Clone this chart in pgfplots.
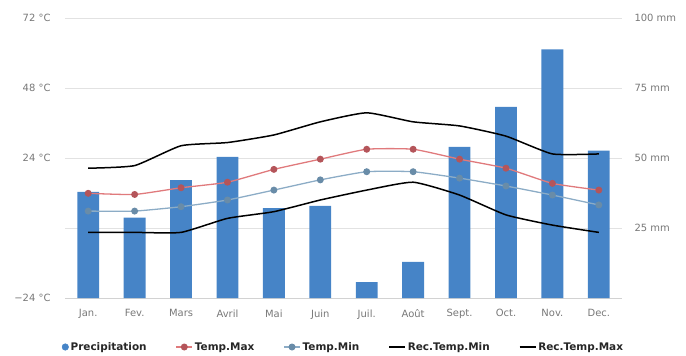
\documentclass[border=0pt]{standalone}
\usepackage{pgfplots}
\pgfplotsset{compat=1.18}
\usepackage{fontspec}
\setmainfont{DejaVu Sans}
\definecolor{barblue}{RGB}{70,132,199}
\definecolor{tmaxline}{RGB}{224,122,124}
\definecolor{tmaxmark}{RGB}{180,85,90}
\definecolor{tminline}{RGB}{140,172,198}
\definecolor{tminmark}{RGB}{105,140,168}
\definecolor{gridgrey}{RGB}{226,226,226}
\definecolor{labgrey}{RGB}{120,120,120}
\definecolor{axgrey}{RGB}{210,210,210}
\begin{document}
\begin{tikzpicture}[x=1bp,y=1bp]
\path[use as bounding box] (0,0) rectangle (686,355);
% precipitation axis (right)
\begin{axis}[
  at={(65bp,57bp)}, anchor=south west, scale only axis,
  width=557bp, height=280bp,
  xmin=-0.5, xmax=11.5, ymin=0, ymax=100,
  axis x line*=bottom, axis y line*=right,
  x axis line style={draw=axgrey, line width=0.8bp},
  y axis line style={draw=none},
  xtick={0,...,11},
  xticklabels={Jan.,Fev.,Mars,Avril,Mai,Juin,Juil.,Août,Sept.,Oct.,Nov.,Dec.},
  major x tick style={draw=none},
  extra x ticks={-0.5,0.5,...,11.5},
  extra x tick labels={},
  extra x tick style={major tick length=5bp, xtick align=outside, tick style={draw=axgrey, line width=0.8bp}, grid=none},
  ytick={0,25,50,75,100},
  yticklabels={{},25 mm,50 mm,75 mm,100 mm},
  major y tick style={draw=none},
  ymajorgrids, grid style={draw=gridgrey, line width=0.8bp},
  ticklabel style={font=\fontsize{10}{12}\selectfont, text=labgrey},
  yticklabel style={xshift=9bp},
  xticklabel style={yshift=-8bp},
  axis on top=false,
]
\addplot[ybar, bar width=0.47, fill=barblue, draw=none] coordinates {
 (0,37.9) (1,28.7) (2,42.1) (3,50.4) (4,32.1) (5,32.9)
 (6,5.7) (7,12.9) (8,54.0) (9,68.3) (10,88.8) (11,52.6)};
\end{axis}
% temperature axis (left)
\begin{axis}[
  at={(65bp,57bp)}, anchor=south west, scale only axis,
  width=557bp, height=280bp,
  xmin=-0.5, xmax=11.5, ymin=-24, ymax=72,
  axis x line=none, axis y line*=left,
  y axis line style={draw=none},
  ytick={-24,24,48,72},
  yticklabels={−24 °C,24 °C,48 °C,72 °C},
  major y tick style={draw=none},
  ticklabel style={font=\fontsize{10}{12}\selectfont, text=labgrey},
  yticklabel style={xshift=-11bp},
  legend style={at={(0.5,-0.175)}, anchor=center, legend columns=5, draw=none, fill=none,
    font=\bfseries\fontsize{10.5}{12}\selectfont, text=black!85,
    /tikz/every even column/.append style={column sep=27bp}},
  legend image code/.code={\draw[mark repeat=2,mark phase=2,#1] plot coordinates {(0bp,0bp) (8bp,0bp) (16bp,0bp)};},
  every axis plot/.append style={smooth, tension=0.3},
]
\addlegendimage{only marks, mark=*, mark size=3.3bp, color=barblue}
\addlegendentry{Precipitation}
\addplot[color=tmaxline, line width=1.3bp, mark=*, mark size=2.8bp, mark options={fill=tmaxmark, draw=tmaxmark}] coordinates {
 (0,11.9) (1,11.5) (2,13.8) (3,15.7) (4,20.1) (5,23.6)
 (6,27.0) (7,27.0) (8,23.6) (9,20.5) (10,15.3) (11,13.0)};
\addlegendentry{Temp.Max}
\addplot[color=tminline, line width=1.3bp, mark=*, mark size=2.8bp, mark options={fill=tminmark, draw=tminmark}] coordinates {
 (0,5.8) (1,5.8) (2,7.3) (3,9.6) (4,13.0) (5,16.5)
 (6,19.3) (7,19.3) (8,17.1) (9,14.4) (10,11.3) (11,7.9)};
\addlegendentry{Temp.Min}
\addplot[color=black, line width=1.5bp] coordinates {
 (0,-1.5) (1,-1.5) (2,-1.5) (3,3.3) (4,5.6) (5,9.6)
 (6,13.0) (7,15.7) (8,11.3) (9,4.5) (10,1.0) (11,-1.5)};
\addlegendentry{Rec.Temp.Min}
\addplot[color=black, line width=1.5bp] coordinates {
 (0,20.5) (1,21.4) (2,28.2) (3,29.3) (4,31.9) (5,36.4)
 (6,39.5) (7,36.4) (8,35.0) (9,31.5) (10,25.4) (11,25.4)};
\addlegendentry{Rec.Temp.Max}
\end{axis}
\end{tikzpicture}
\end{document}
